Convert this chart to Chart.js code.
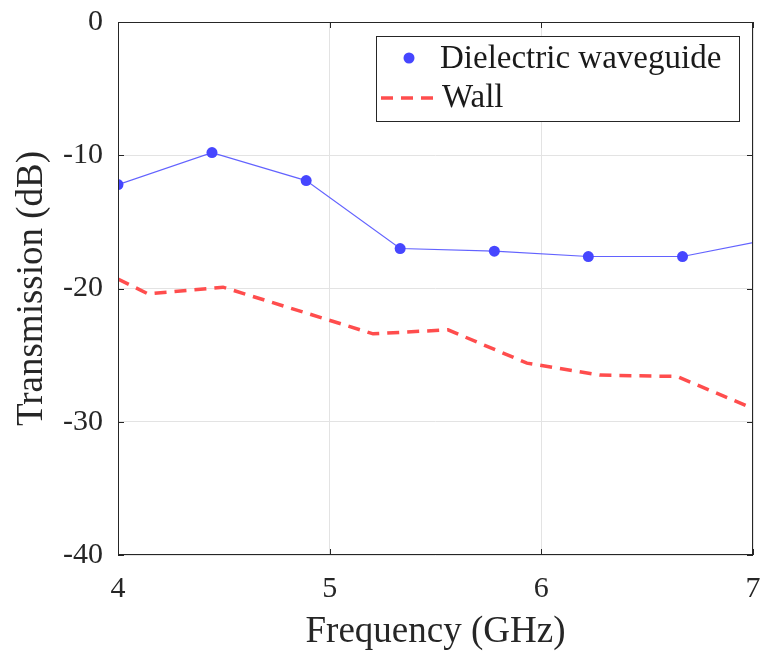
<!DOCTYPE html>
<html>
<head>
<meta charset="utf-8">
<script src="https://cdn.jsdelivr.net/npm/chart.js@4/dist/chart.umd.min.js"></script>
<style>
  html, body { margin: 0; padding: 0; background: #ffffff; }
  #wrap { width: 764px; height: 655px; }
</style>
</head>
<body>
<div id="wrap"><canvas id="c" width="764" height="655"></canvas></div>
<script>
// Measured transmission through the dielectric waveguide (GHz, dB)
const waveguideFreq = [4.0, 4.444, 4.889, 5.333, 5.778, 6.222, 6.667, 7.111];
const waveguideDb   = [-12.2, -9.8, -11.9, -17.0, -17.2, -17.6, -17.6, -16.2];

// Transmission through the bare wall (GHz, dB)
const wallFreq = [4.0, 4.142, 4.496, 5.205, 5.559, 5.932, 6.277, 6.641, 7.0];
const wallDb   = [-19.3, -20.4, -19.9, -23.4, -23.1, -25.6, -26.5, -26.6, -29.0];

// Axis ticks
const xTicks = [4, 5, 6, 7];
const yTicks = [-40, -30, -20, -10, 0];

const seriesNames = ['Dielectric waveguide', 'Wall'];

const SERIF = '"Liberation Serif", "DejaVu Serif", serif';
const AXIS_COLOR = '#262626';
const BLUE = '#4646ff';
const RED = '#ff4d4d';
const WALL_DASH = [12, 8];

function toXY(xs, ys) { return xs.map((x, i) => ({ x: x, y: ys[i] })); }

// Box, inward tick marks and in-plot legend
const framePlugin = {
  id: 'frame',
  afterDatasetsDraw(chart) {
    const { ctx, chartArea: a, scales } = chart;
    ctx.save();
    ctx.strokeStyle = AXIS_COLOR;
    ctx.lineWidth = 1;
    ctx.strokeRect(a.left + 0.5, a.top + 0.5, a.right - a.left - 1, a.bottom - a.top - 1);
    const tk = 6;
    ctx.beginPath();
    xTicks.forEach(v => {
      const px = Math.round(scales.x.getPixelForValue(v)) + 0.5;
      ctx.moveTo(px, a.bottom); ctx.lineTo(px, a.bottom - tk);
      ctx.moveTo(px, a.top); ctx.lineTo(px, a.top + tk);
    });
    yTicks.forEach(v => {
      const py = Math.round(scales.y.getPixelForValue(v)) + 0.5;
      ctx.moveTo(a.left, py); ctx.lineTo(a.left + tk, py);
      ctx.moveTo(a.right, py); ctx.lineTo(a.right - tk, py);
    });
    ctx.stroke();

    // legend
    const bx = 376.5, by = 36.5, bw = 363, bh = 85;
    ctx.fillStyle = '#ffffff';
    ctx.fillRect(bx, by, bw, bh);
    ctx.strokeStyle = AXIS_COLOR;
    ctx.strokeRect(bx, by, bw, bh);
    ctx.font = '33px ' + SERIF;
    ctx.textBaseline = 'middle';
    ctx.textAlign = 'left';
    const ds = chart.data.datasets;
    // row 1: marker
    ctx.beginPath();
    ctx.fillStyle = ds[0].pointBackgroundColor;
    ctx.arc(409, 58, 5.5, 0, Math.PI * 2);
    ctx.fill();
    ctx.fillStyle = '#1a1a1a';
    ctx.fillText(ds[0].label, 440, 59);
    // row 2: dashed line
    ctx.beginPath();
    ctx.strokeStyle = ds[1].borderColor;
    ctx.lineWidth = ds[1].borderWidth;
    ctx.setLineDash(ds[1].borderDash);
    ctx.moveTo(381, 98); ctx.lineTo(437, 98);
    ctx.stroke();
    ctx.setLineDash([]);
    ctx.fillStyle = '#1a1a1a';
    ctx.fillText(ds[1].label, 442, 98);
    ctx.restore();
  }
};

new Chart(document.getElementById('c'), {
  type: 'scatter',
  data: {
    datasets: [
      {
        label: seriesNames[0],
        data: toXY(waveguideFreq, waveguideDb),
        showLine: true,
        borderColor: 'rgba(70,70,255,0.85)',
        borderWidth: 1.2,
        pointBackgroundColor: BLUE,
        pointBorderWidth: 0,
        pointRadius: 5.5,
        pointHoverRadius: 5.5
      },
      {
        label: seriesNames[1],
        data: toXY(wallFreq, wallDb),
        showLine: true,
        borderColor: RED,
        borderWidth: 3.5,
        borderDash: WALL_DASH,
        pointRadius: 0,
        pointHoverRadius: 0
      }
    ]
  },
  options: {
    responsive: false,
    animation: false,
    events: [],
    layout: { padding: { top: 22, right: 11, left: 0, bottom: 0 } },
    plugins: { legend: { display: false }, tooltip: { enabled: false } },
    scales: {
      x: {
        type: 'linear',
        min: 4, max: 7,
        afterFit(s) { s.height = 100; s.paddingLeft = 0; s.paddingRight = 0; },
        afterBuildTicks(s) { s.ticks = xTicks.map(v => ({ value: v })); },
        grid: { color: '#e3e3e3', lineWidth: 1, drawTicks: false },
        border: { display: false },
        ticks: {
          color: '#262626',
          padding: 19,
          font: { family: SERIF, size: 30, lineHeight: 1 },
          maxRotation: 0
        },
        title: {
          display: true,
          text: 'Frequency (GHz)',
          color: '#262626',
          font: { family: SERIF, size: 37, lineHeight: 1 },
          padding: { top: 0, bottom: 4 }
        }
      },
      y: {
        type: 'linear',
        min: -40, max: 0,
        afterFit(s) { s.width = 118; s.paddingTop = 0; s.paddingBottom = 0; },
        afterBuildTicks(s) { s.ticks = yTicks.map(v => ({ value: v })); },
        grid: { color: '#e3e3e3', lineWidth: 1, drawTicks: false },
        border: { display: false },
        ticks: {
          color: '#262626',
          padding: 15,
          font: { family: SERIF, size: 30, lineHeight: 1 }
        },
        title: {
          display: true,
          text: 'Transmission (dB)',
          color: '#262626',
          font: { family: SERIF, size: 37, lineHeight: 1 },
          padding: { top: 14, bottom: 0 }
        }
      }
    }
  },
  plugins: [framePlugin]
});
</script>
</body>
</html>
